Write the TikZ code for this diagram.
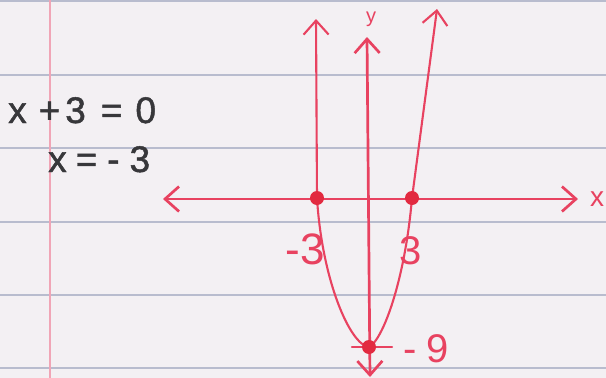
\documentclass[tikz,border=0pt]{standalone}
\usepackage{fontspec}
\setmainfont{Liberation Sans}
\newfontfamily\handfont[FakeBold=1.3]{Liberation Sans}
\usetikzlibrary{arrows.meta}
\definecolor{paper}{RGB}{243,240,243}
\definecolor{ruleblue}{RGB}{184,188,206}
\definecolor{marginpink}{RGB}{240,165,182}
\definecolor{ink}{RGB}{232,66,96}
\definecolor{dotred}{RGB}{226,42,64}
\definecolor{pencil}{RGB}{55,55,58}
\begin{document}
\begin{tikzpicture}[x=1pt,y=-1pt,
  ruleline/.style={draw=ruleblue, line width=1.1pt},
  marginline/.style={draw=marginpink, line width=1.6pt},
  axisline/.style={draw=ink, line width=2.7pt, line cap=round, line join=round},
  curveline/.style={draw=ink, line width=2.1pt, line cap=round, line join=round},
  barb/.tip={Straight Barb[length=14pt,width=25pt]},
  dotpt/.style={circle, fill=dotred, minimum size=14pt, inner sep=0pt},
  pencil text/.style={text=pencil, inner sep=0pt, anchor=base west, font=\handfont\fontsize{37}{40}\selectfont},
  inklabel/.style={text=ink, inner sep=0pt, anchor=base}]
\useasboundingbox (0,0) rectangle (606,378);
\fill[paper] (0,0) rectangle (606,378);
\foreach \yy in {1,75,148,222,295,368} \draw[ruleline] (0,\yy) -- (606,\yy);
\draw[marginline] (50,0) -- (50,378);

% key coordinates
\coordinate (Xl) at (163,199);
\coordinate (Xr) at (578,199);
\coordinate (Ytop) at (367,37);
\coordinate (Ybot) at (370,377);
\coordinate (Ltip) at (316,19);
\coordinate (Rtip) at (437,9);
\coordinate (pA) at (317,198);
\coordinate (pB) at (412,198);
\coordinate (pV) at (369,347);
\coordinate (tL) at (352,347);
\coordinate (tR) at (392,347);

% axes
\draw[axisline, barb-barb] (Xl) -- (Xr);
\draw[axisline, barb-barb] (Ybot) -- (Ytop);

% parabola
\draw[curveline, -barb] (pA) -- (Ltip);
\draw[curveline, -barb] (pB) -- (Rtip);
\draw[curveline] (pA) .. controls (322,280) and (350,345) .. (pV)
                      .. controls (383,340) and (405,280) .. (pB);
\draw[curveline] (tL) -- (tR);

% points
\node[dotpt] (dA) at (pA) {};
\node[dotpt] (dB) at (pB) {};
\node[dotpt] (dV) at (pV) {};

% labels
\node[inklabel, font=\fontsize{20}{22}\selectfont] (ylab) at (371,22) {y};
\node[inklabel, font=\fontsize{28}{30}\selectfont] (xlab) at (597,206) {x};
\node[inklabel, font=\fontsize{44}{48}\selectfont] (lm3) at (305,264) {-3};
\node[inklabel, font=\fontsize{40}{44}\selectfont] (lp3) at (411,264) {3};
\node[inklabel, anchor=base west, font=\fontsize{40}{44}\selectfont] (lm9) at (403,362) {-\hspace{10pt}9};

% equations
\node[pencil text] (eq1) at (8,123) {x\hspace{12pt}+\hspace{5pt}3\hspace{15pt}=\hspace{13pt}0};
\node[pencil text] (eq2) at (48,172) {x\hspace{9pt}=\hspace{10pt}-\hspace{10pt}3};
\end{tikzpicture}
\end{document}
